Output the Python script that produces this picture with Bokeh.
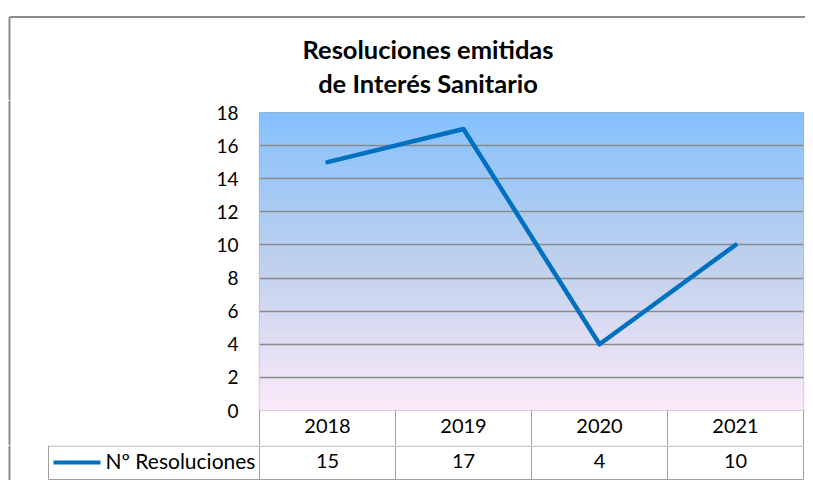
from bokeh.plotting import figure
from bokeh.layouts import column, row
from bokeh.models import Range1d, FixedTicker
from bokeh.core.properties import value
from bokeh.embed import file_html
from bokeh.resources import INLINE

# ---- data ----
years = ["2018", "2019", "2020", "2021"]
resoluciones = [15, 17, 4, 10]
y_ticks = [0, 2, 4, 6, 8, 10, 12, 14, 16, 18]
title_lines = ["Resoluciones emitidas", "de Interés Sanitario"]
series_name = "Nº Resoluciones"

# ---- layout constants (canvas pixels) ----
W = 805
TOP_H = 100          # title strip
MID_H = 345          # chart strip (plot area + years row)
BOT_H = 35           # values row of the table
LEFT_W = 200
FRAME_L, FRAME_R = 259, 803
FRAME_T, FRAME_B = 112, 410
YMAX = 18
NCAT = len(years)
CAT_PX = (FRAME_R - FRAME_L) / NCAT
centers = [i + 0.5 for i in range(NCAT)]      # category slot centres
bounds = list(range(NCAT + 1))                 # category slot boundaries

FONT = value("Lato")
LINE_BLUE = "#0070C0"
GRID = "#8a8a8a"
TABLE = "#a0a0a0"
BORDER = "#8c8c8c"


def blank(w, h, xr, yr):
    f = figure(width=w, height=h, x_range=xr, y_range=yr, output_backend="svg",
               toolbar_location=None, x_axis_location=None, y_axis_location=None,
               min_border=0)
    f.outline_line_color = None
    f.background_fill_color = "white"
    f.border_fill_color = "white"
    f.frame_align = False
    for g in f.grid:
        g.visible = False
    return f


# ---- title strip ----
top = blank(W, TOP_H, Range1d(0, W), Range1d(TOP_H, 0))
top.segment(x0=[9, 9], y0=[16.5, 16.5], x1=[W, 9], y1=[16.5, TOP_H],
            line_color=BORDER, line_width=2)
top.text(x=[427.5, 427.5], y=[48.5, 82.5], text=title_lines, text_font=FONT,
         text_font_size="25.5px", text_font_style="bold", text_align="center",
         text_baseline="middle", text_color="#000000")

# ---- left strip (outer border) ----
left = blank(LEFT_W, MID_H, Range1d(0, LEFT_W), Range1d(MID_H, 0))
left.segment(x0=[9], y0=[0], x1=[9], y1=[MID_H], line_color=BORDER, line_width=2)

# ---- chart ----
CW = W - LEFT_W
ROW_H = TOP_H + MID_H - FRAME_B        # height of the years row
chart = figure(width=CW, height=MID_H, x_range=Range1d(0, NCAT),
               y_range=Range1d(0, YMAX), output_backend="svg", toolbar_location=None,
               min_border_left=FRAME_L - LEFT_W, min_border_right=W - FRAME_R,
               min_border_top=FRAME_T - TOP_H, min_border_bottom=ROW_H)
chart.frame_align = False
chart.background_fill_color = "white"
chart.border_fill_color = "white"
chart.outline_line_color = TABLE
chart.outline_line_width = 1.2

# gradient background of the plot area
N = 120
stops = [(0.0, (253, 234, 250)), (0.5, (190, 208, 236)), (1.0, (133, 193, 254))]
def col(t):
    for (t0, c0), (t1, c1) in zip(stops[:-1], stops[1:]):
        if t <= t1:
            f = (t - t0) / (t1 - t0)
            return "#%02x%02x%02x" % tuple(int(round(a + (b - a) * f)) for a, b in zip(c0, c1))
    return "#%02x%02x%02x" % stops[-1][1]
bots = [YMAX * k / N for k in range(N)]
tops = [YMAX * (k + 1) / N for k in range(N)]
cols = [col((k + 0.5) / N) for k in range(N)]
chart.quad(left=0, right=NCAT, bottom=bots, top=tops, fill_color=cols, line_color=cols,
           line_width=1, level="image")

chart.xgrid.grid_line_color = None
chart.ygrid.ticker = FixedTicker(ticks=y_ticks)
chart.ygrid.grid_line_color = GRID
chart.ygrid.grid_line_width = 1.3

chart.yaxis.ticker = FixedTicker(ticks=y_ticks)
chart.yaxis.axis_line_color = None
chart.yaxis.major_tick_line_color = None
chart.yaxis.major_tick_out = 0
chart.yaxis.major_tick_in = 0
chart.yaxis.minor_tick_line_color = None
chart.yaxis.major_label_standoff = 21
chart.yaxis.major_label_text_font = "Lato"
chart.yaxis.major_label_text_font_size = "19px"
chart.yaxis.major_label_text_color = "#000000"

# x axis = years row of the table; minor ticks draw the cell borders
chart.xaxis.ticker = FixedTicker(ticks=centers, minor_ticks=bounds)
chart.xaxis.major_label_overrides = {c: y for c, y in zip(centers, years)}
chart.xaxis.axis_line_color = None
chart.xaxis.major_tick_in = 0
chart.xaxis.major_tick_out = 0
chart.xaxis.major_tick_line_color = None
chart.xaxis.minor_tick_in = 0
chart.xaxis.minor_tick_out = ROW_H
chart.xaxis.minor_tick_line_color = TABLE
chart.xaxis.minor_tick_line_width = 1
chart.xaxis.major_label_standoff = 8 - ROW_H
chart.xaxis.major_label_text_font = "Lato"
chart.xaxis.major_label_text_font_size = "20px"
chart.xaxis.major_label_text_color = "#000000"

chart.line(x=centers, y=resoluciones, line_color=LINE_BLUE, line_width=4.5,
           line_cap="round", line_join="round")

# ---- values row of the table ----
Y0 = TOP_H + MID_H
def cx(px):
    return (px - FRAME_L) / CAT_PX
table = blank(W, BOT_H, Range1d(cx(0), cx(W)), Range1d(Y0 + BOT_H, Y0))
ROW1, ROW2, TLEFT = Y0 + 0.5, 479, 48
vx = [cx(TLEFT)] + bounds
table.segment(x0=vx, y0=[ROW1] * len(vx), x1=vx, y1=[ROW2] * len(vx),
              line_color=TABLE, line_width=1)
table.segment(x0=[cx(TLEFT), cx(TLEFT)], y0=[ROW1, ROW2],
              x1=[NCAT, NCAT], y1=[ROW1, ROW2], line_color=TABLE, line_width=1)
table.segment(x0=[cx(9)], y0=[Y0], x1=[cx(9)], y1=[Y0 + BOT_H], line_color=BORDER, line_width=2)
table.text(x=centers, y=[460] * NCAT, text=[str(v) for v in resoluciones], text_font=FONT,
           text_font_size="20px", text_align="center", text_baseline="middle",
           text_color="#000000")
table.segment(x0=[cx(53)], y0=[462], x1=[cx(100)], y1=[462], line_color=LINE_BLUE, line_width=4)
table.text(x=[cx(105)], y=[460], text=[series_name], text_font=FONT, text_font_size="21px",
           text_align="left", text_baseline="middle", text_color="#000000")

layout = column(top, row(left, chart), table)
open("out.html", "w").write(file_html(layout, INLINE))
